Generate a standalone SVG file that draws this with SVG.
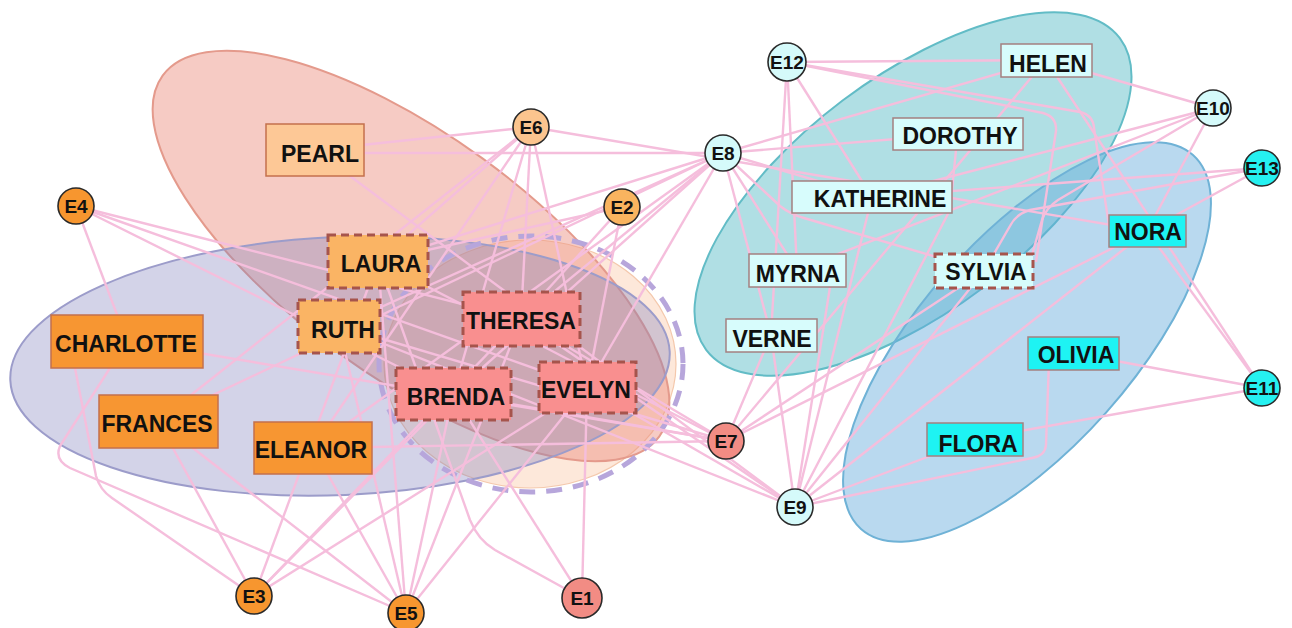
<svg xmlns="http://www.w3.org/2000/svg" width="1292" height="628" viewBox="0 0 1292 628">
  <style>
    .e { stroke: #f5bedc; stroke-width: 2.4; fill: none; stroke-linejoin: round; }
    .ev { stroke: #2a2a2a; stroke-width: 1.6; }
    .evt { font-family: "Liberation Sans", Arial, sans-serif; font-weight: bold; font-size: 19px; fill: #111; text-anchor: middle; }
    .nm { font-family: "Liberation Sans", Arial, sans-serif; font-weight: bold; font-size: 23px; fill: #111; text-anchor: middle; }
    .solidO { stroke: #c4704c; stroke-width: 1.5; }
    .solidC { stroke: #a48080; stroke-width: 1.5; }
    .dash { stroke: #a6544c; stroke-width: 3; stroke-dasharray: 8 5; }
    .fPearl { fill: #fdc896; }
    .fLaura { fill: #fab464; }
    .fRed { fill: #f98f8f; }
    .fOrange { fill: #f79632; }
    .fLight { fill: #d7fcfc; }
    .fCyan { fill: #1ef3f3; }
  </style>

  <!-- group hulls -->
  <g id="hulls">
    <ellipse cx="530" cy="364" rx="146" ry="124" fill="#fde8da" stroke="#f4c8ac" stroke-width="1.2"/>
    <ellipse cx="411" cy="256" rx="307" ry="121" transform="rotate(36 411 256)" fill="rgb(235,140,125)" fill-opacity="0.45" stroke="#e49a8c" stroke-width="2"/>
    <ellipse cx="340" cy="366" rx="330" ry="129" transform="rotate(-2.5 340 366)" fill="rgb(130,130,190)" fill-opacity="0.35" stroke="#9c9cca" stroke-width="2"/>
    <ellipse cx="531" cy="364" rx="152" ry="128" fill="none" stroke="#b7a6db" stroke-width="5" stroke-dasharray="16 11"/>
    <ellipse cx="913" cy="194" rx="259" ry="117" transform="rotate(-37 913 194)" fill="rgb(80,185,195)" fill-opacity="0.45" stroke="#62bcc6" stroke-width="2"/>
    <ellipse cx="1027" cy="342" rx="250" ry="106" transform="rotate(-48.4 1027 342)" fill="rgb(100,170,220)" fill-opacity="0.45" stroke="#6fb2d6" stroke-width="2"/>
  </g>

  <!-- connectors: woman to event -->
  <g id="edges">
    <!-- EVELYN -->
    <line class="e" x1="587" y1="387" x2="582" y2="598"/>
    <line class="e" x1="587" y1="387" x2="622" y2="207"/>
    <line class="e" x1="587" y1="387" x2="254" y2="596"/>
    <line class="e" x1="587" y1="387" x2="76" y2="206"/>
    <line class="e" x1="587" y1="387" x2="406" y2="613"/>
    <line class="e" x1="587" y1="387" x2="531" y2="127"/>
    <line class="e" x1="587" y1="387" x2="723" y2="153"/>
    <line class="e" x1="587" y1="387" x2="795" y2="507"/>
    <!-- LAURA -->
    <path class="e" d="M378,261 L470,520 Q478,540 495,550 L582,598"/>
    <line class="e" x1="378" y1="261" x2="622" y2="207"/>
    <line class="e" x1="378" y1="261" x2="254" y2="596"/>
    <line class="e" x1="378" y1="261" x2="406" y2="613"/>
    <line class="e" x1="378" y1="261" x2="531" y2="127"/>
    <line class="e" x1="378" y1="261" x2="726" y2="441"/>
    <line class="e" x1="378" y1="261" x2="723" y2="153"/>
    <!-- THERESA -->
    <line class="e" x1="521" y1="319" x2="622" y2="207"/>
    <line class="e" x1="521" y1="319" x2="254" y2="596"/>
    <line class="e" x1="521" y1="319" x2="76" y2="206"/>
    <line class="e" x1="521" y1="319" x2="406" y2="613"/>
    <line class="e" x1="521" y1="319" x2="531" y2="127"/>
    <line class="e" x1="521" y1="319" x2="726" y2="441"/>
    <line class="e" x1="521" y1="319" x2="723" y2="153"/>
    <line class="e" x1="521" y1="319" x2="795" y2="507"/>
    <!-- BRENDA -->
    <line class="e" x1="453" y1="394" x2="582" y2="598"/>
    <line class="e" x1="453" y1="394" x2="254" y2="596"/>
    <line class="e" x1="453" y1="394" x2="76" y2="206"/>
    <line class="e" x1="453" y1="394" x2="406" y2="613"/>
    <line class="e" x1="453" y1="394" x2="531" y2="127"/>
    <line class="e" x1="453" y1="394" x2="726" y2="441"/>
    <line class="e" x1="453" y1="394" x2="723" y2="153"/>
    <!-- CHARLOTTE -->
    <path class="e" d="M75,368 L96,476 Q100,490 112,498 L254,596"/>
    <line class="e" x1="127" y1="341" x2="76" y2="206"/>
    <path class="e" d="M110,368 L60,446 Q54,460 70,468 L406,613"/>
    <line class="e" x1="127" y1="341" x2="726" y2="441"/>
    <!-- FRANCES -->
    <line class="e" x1="158" y1="421" x2="254" y2="596"/>
    <line class="e" x1="158" y1="421" x2="406" y2="613"/>
    <line class="e" x1="158" y1="421" x2="531" y2="127"/>
    <line class="e" x1="158" y1="421" x2="723" y2="153"/>
    <!-- ELEANOR -->
    <line class="e" x1="313" y1="448" x2="406" y2="613"/>
    <line class="e" x1="313" y1="448" x2="531" y2="127"/>
    <line class="e" x1="313" y1="448" x2="726" y2="441"/>
    <line class="e" x1="313" y1="448" x2="723" y2="153"/>
    <!-- PEARL -->
    <line class="e" x1="315" y1="150" x2="531" y2="127"/>
    <line class="e" x1="315" y1="153" x2="723" y2="153"/>
    <line class="e" x1="315" y1="150" x2="795" y2="507"/>
    <!-- RUTH -->
    <line class="e" x1="339" y1="326" x2="406" y2="613"/>
    <line class="e" x1="339" y1="326" x2="726" y2="441"/>
    <line class="e" x1="339" y1="326" x2="723" y2="153"/>
    <line class="e" x1="339" y1="326" x2="795" y2="507"/>
    <!-- VERNE -->
    <line class="e" x1="771" y1="335" x2="726" y2="441"/>
    <line class="e" x1="771" y1="335" x2="723" y2="153"/>
    <line class="e" x1="771" y1="335" x2="795" y2="507"/>
    <line class="e" x1="771" y1="335" x2="787" y2="62"/>
    <!-- MYRNA -->
    <line class="e" x1="797" y1="270" x2="723" y2="153"/>
    <line class="e" x1="830" y1="287" x2="795" y2="507"/>
    <line class="e" x1="797" y1="270" x2="1213" y2="108"/>
    <line class="e" x1="797" y1="270" x2="787" y2="62"/>
    <!-- KATHERINE -->
    <line class="e" x1="872" y1="197" x2="723" y2="153"/>
    <line class="e" x1="872" y1="197" x2="795" y2="507"/>
    <line class="e" x1="872" y1="197" x2="1213" y2="108"/>
    <line class="e" x1="872" y1="197" x2="787" y2="62"/>
    <line class="e" x1="872" y1="197" x2="1262" y2="168"/>
    <!-- SYLVIA -->
    <line class="e" x1="984" y1="271" x2="726" y2="441"/>
    <path class="e" d="M723,153 L780,206 Q790,214 804,218 L984,271"/>
    <line class="e" x1="984" y1="271" x2="795" y2="507"/>
    <path class="e" d="M1213,108 L1058,200 Q1046,208 1042,220 L1030,262"/>
    <path class="e" d="M787,62 L1043,113 Q1057,117 1056,131 L1036,262"/>
    <path class="e" d="M1262,168 L1030,210 Q1016,214 1010,226 L984,271"/>
    <!-- NORA -->
    <line class="e" x1="1147" y1="231" x2="531" y2="127"/>
    <line class="e" x1="1147" y1="231" x2="726" y2="441"/>
    <line class="e" x1="1147" y1="231" x2="795" y2="507"/>
    <line class="e" x1="1147" y1="231" x2="1213" y2="108"/>
    <line class="e" x1="1147" y1="231" x2="1262" y2="388"/>
    <path class="e" d="M787,62 L1080,112 Q1093,115 1094,128 L1110,232"/>
    <line class="e" x1="1147" y1="231" x2="1262" y2="168"/>
    <!-- HELEN -->
    <line class="e" x1="1046" y1="60" x2="726" y2="441"/>
    <line class="e" x1="1046" y1="60" x2="723" y2="153"/>
    <line class="e" x1="1046" y1="60" x2="1213" y2="108"/>
    <line class="e" x1="1046" y1="60" x2="1262" y2="388"/>
    <line class="e" x1="1046" y1="60" x2="787" y2="62"/>
    <!-- DOROTHY -->
    <line class="e" x1="958" y1="134" x2="723" y2="153"/>
    <path class="e" d="M957,140 L950,210 L795,507"/>
    <!-- OLIVIA -->
    <path class="e" d="M1049,360 L1046,445 Q1045,456 1032,458 L795,507"/>
    <line class="e" x1="1073" y1="353" x2="1262" y2="388"/>
    <!-- FLORA -->
    <line class="e" x1="975" y1="439" x2="795" y2="507"/>
    <line class="e" x1="975" y1="439" x2="1262" y2="388"/>
  </g>

  <!-- event nodes -->
  <g id="E1"><circle class="ev" cx="582" cy="598" r="20" fill="#f28c84"/><text class="evt" x="582" y="605">E1</text></g>
  <g id="E2"><circle class="ev" cx="622" cy="207" r="18" fill="#f9b45f"/><text class="evt" x="622" y="214">E2</text></g>
  <g id="E3"><circle class="ev" cx="254" cy="596" r="18" fill="#f7962f"/><text class="evt" x="254" y="603">E3</text></g>
  <g id="E4"><circle class="ev" cx="76" cy="206" r="18" fill="#f7962f"/><text class="evt" x="76" y="213">E4</text></g>
  <g id="E5"><circle class="ev" cx="406" cy="613" r="18" fill="#f7962f"/><text class="evt" x="406" y="620">E5</text></g>
  <g id="E6"><circle class="ev" cx="531" cy="127" r="18" fill="#fbc48e"/><text class="evt" x="531" y="134">E6</text></g>
  <g id="E7"><circle class="ev" cx="726" cy="441" r="18" fill="#f28c84"/><text class="evt" x="726" y="448">E7</text></g>
  <g id="E8"><circle class="ev" cx="723" cy="153" r="18" fill="#d5fafa"/><text class="evt" x="723" y="160">E8</text></g>
  <g id="E9"><circle class="ev" cx="795" cy="507" r="18" fill="#d5fafa"/><text class="evt" x="795" y="514">E9</text></g>
  <g id="E10"><circle class="ev" cx="1213" cy="108" r="18" fill="#d5fafa"/><text class="evt" x="1213" y="115">E10</text></g>
  <g id="E11"><circle class="ev" cx="1262" cy="388" r="18" fill="#25f0f0"/><text class="evt" x="1262" y="395">E11</text></g>
  <g id="E12"><circle class="ev" cx="787" cy="62" r="19" fill="#d5fafa"/><text class="evt" x="787" y="69">E12</text></g>
  <g id="E13"><circle class="ev" cx="1262" cy="168" r="18" fill="#25f0f0"/><text class="evt" x="1262" y="175">E13</text></g>

  <!-- women nodes -->
  <g id="PEARL"><rect class="fPearl solidO" x="266" y="124" width="98" height="52"/><text class="nm" x="320" y="162">PEARL</text></g>
  <g id="LAURA"><rect class="fLaura dash" x="328" y="235" width="100" height="53"/><text class="nm" x="381" y="272">LAURA</text></g>
  <g id="RUTH"><rect class="fLaura dash" x="298" y="300" width="82" height="53"/><text class="nm" x="343" y="338">RUTH</text></g>
  <g id="THERESA"><rect class="fRed dash" x="463" y="292" width="117" height="54"/><text class="nm" x="521" y="329">THERESA</text></g>
  <g id="BRENDA"><rect class="fRed dash" x="396" y="368" width="115" height="52"/><text class="nm" x="456" y="405">BRENDA</text></g>
  <g id="EVELYN"><rect class="fRed dash" x="539" y="362" width="97" height="51"/><text class="nm" x="586" y="398">EVELYN</text></g>
  <g id="CHARLOTTE"><rect class="fOrange solidO" x="51" y="315" width="152" height="53"/><text class="nm" x="126" y="352">CHARLOTTE</text></g>
  <g id="FRANCES"><rect class="fOrange solidO" x="99" y="395" width="119" height="53"/><text class="nm" x="157" y="432">FRANCES</text></g>
  <g id="ELEANOR"><rect class="fOrange solidO" x="254" y="422" width="118" height="52"/><text class="nm" x="311" y="458">ELEANOR</text></g>
  <g id="HELEN"><rect class="fLight solidC" x="1001" y="44" width="91" height="33"/><text class="nm" x="1048" y="72">HELEN</text></g>
  <g id="DOROTHY"><rect class="fLight solidC" x="893" y="118" width="130" height="32"/><text class="nm" x="960" y="144">DOROTHY</text></g>
  <g id="KATHERINE"><rect class="fLight solidC" x="792" y="181" width="160" height="32"/><text class="nm" x="880" y="207">KATHERINE</text></g>
  <g id="MYRNA"><rect class="fLight solidC" x="749" y="254" width="97" height="33"/><text class="nm" x="798" y="282">MYRNA</text></g>
  <g id="SYLVIA"><rect class="fLight dash" x="935" y="254" width="98" height="34"/><text class="nm" x="986" y="280">SYLVIA</text></g>
  <g id="VERNE"><rect class="fLight solidC" x="726" y="319" width="91" height="33"/><text class="nm" x="772" y="347">VERNE</text></g>
  <g id="NORA"><rect class="fCyan solidC" x="1109" y="215" width="77" height="32"/><text class="nm" x="1148" y="240">NORA</text></g>
  <g id="OLIVIA"><rect class="fCyan solidC" x="1028" y="337" width="91" height="33"/><text class="nm" x="1076" y="363">OLIVIA</text></g>
  <g id="FLORA"><rect class="fCyan solidC" x="927" y="423" width="96" height="33"/><text class="nm" x="978" y="452">FLORA</text></g>
</svg>
